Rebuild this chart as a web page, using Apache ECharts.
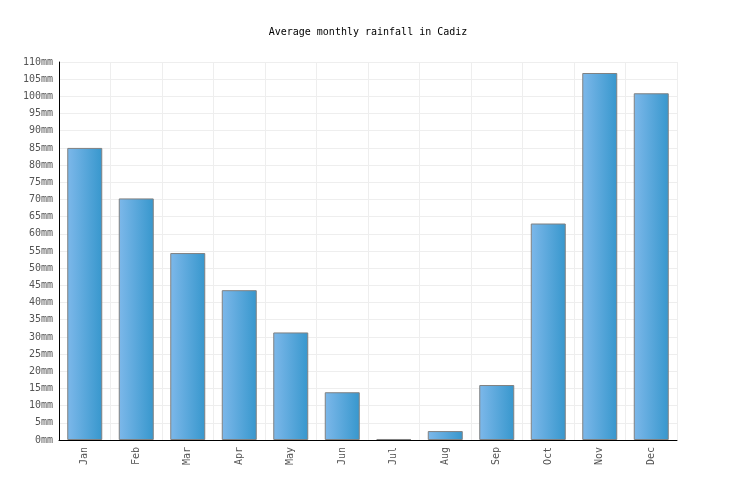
<!DOCTYPE html>
<html>
<head>
<meta charset="utf-8">
<script src="https://cdn.jsdelivr.net/npm/echarts@6/dist/echarts.min.js"></script>
<style>
  html, body { margin: 0; padding: 0; background: #fff; }
  #chart { width: 736px; height: 500px; }
</style>
</head>
<body>
<div id="chart"></div>
<script>
const months = ['Jan', 'Feb', 'Mar', 'Apr', 'May', 'Jun', 'Jul', 'Aug', 'Sep', 'Oct', 'Nov', 'Dec'];
const rainfall = [85, 70.3, 54.4, 43.6, 31.3, 13.9, 0.3, 2.6, 16, 63, 106.8, 100.9];

const font = '"DejaVu Sans Mono", "Liberation Mono", monospace';

const chart = echarts.init(document.getElementById('chart'), null, { renderer: 'canvas' });

chart.setOption({
    backgroundColor: '#fff',
    animation: false,
    title: {
        text: 'Average monthly rainfall in Cadiz',
        left: 'center',
        top: 22,
        textStyle: { color: '#000', fontSize: 10, fontWeight: 'normal', fontFamily: font },
    },
    grid: { left: 59, right: 59, top: 62, bottom: 60 },
    xAxis: {
        type: 'category',
        data: months,
        axisLine: { lineStyle: { color: '#000', width: 1 } },
        axisTick: { show: false },
        axisLabel: { color: '#555', fontSize: 10, fontFamily: font, rotate: 90, margin: 7 },
        splitLine: { show: true, lineStyle: { color: '#eee' } },
    },
    yAxis: {
        type: 'value',
        min: 0,
        max: 110,
        interval: 5,
        axisLine: { show: true, lineStyle: { color: '#000', width: 1 } },
        axisTick: { show: false },
        axisLabel: { color: '#555', fontSize: 10, fontFamily: font, margin: 6, formatter: '{value}mm' },
        splitLine: { lineStyle: { color: '#eee' } },
    },
    series: [{
        type: 'bar',
        data: rainfall,
        barWidth: 35,
        itemStyle: {
            color: new echarts.graphic.LinearGradient(0, 0, 1, 0, [
                { offset: 0, color: '#7db8ea' },
                { offset: 1, color: '#3797cd' },
            ]),
            borderColor: '#808080',
            borderWidth: 1,
        },
    }],
});
</script>
</body>
</html>
